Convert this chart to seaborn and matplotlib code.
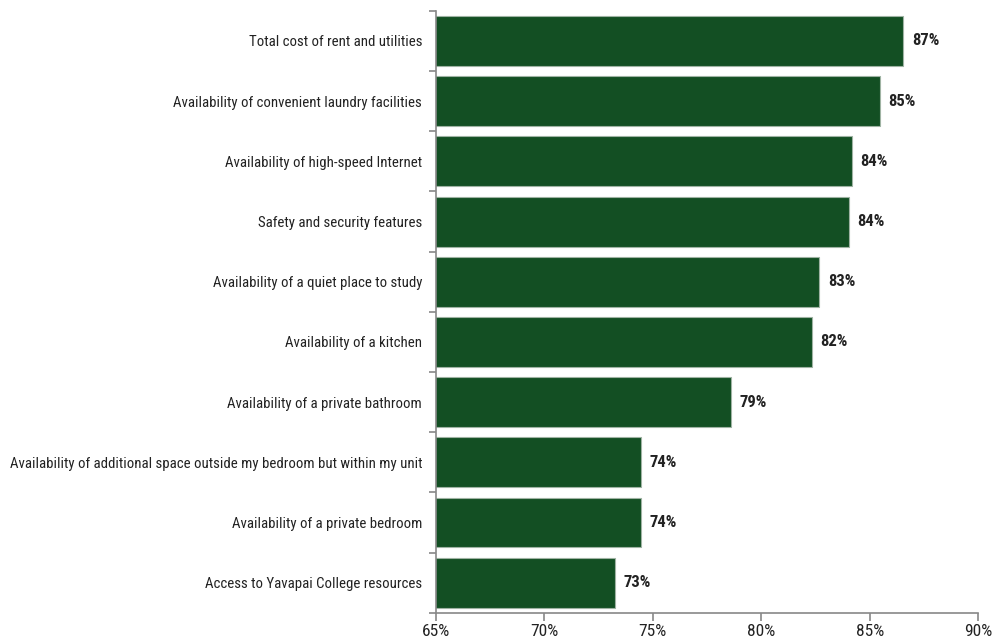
import matplotlib
matplotlib.use("Agg")
import matplotlib.pyplot as plt
import seaborn as sns
import pandas as pd
import numpy as np
from matplotlib.ticker import FixedLocator

categories = [
    "Total cost of rent and utilities",
    "Availability of convenient laundry facilities",
    "Availability of high-speed Internet",
    "Safety and security features",
    "Availability of a quiet place to study",
    "Availability of a kitchen",
    "Availability of a private bathroom",
    "Availability of additional space outside my bedroom but within my unit",
    "Availability of a private bedroom",
    "Access to Yavapai College resources",
]
values = [86.55, 85.46, 84.17, 84.05, 82.67, 82.33, 78.59, 74.46, 74.46, 73.25]
x_ticks = [65, 70, 75, 80, 85, 90]
x_tick_labels = ["65%", "70%", "75%", "80%", "85%", "90%"]

df = pd.DataFrame({"category": categories, "value": values})

sns.set_theme(style="white")
plt.rcParams["font.family"] = ["Roboto Condensed", "DejaVu Sans"]

fig = plt.figure(figsize=(9.93, 6.41), dpi=100)
ax = fig.add_axes([0.439, 0.044, 0.546, 0.939])

sns.barplot(data=df, x="value", y="category", orient="h", color="#134f23",
            saturation=1, width=0.83, edgecolor="#9fb3a3", linewidth=0.8, ax=ax)

ax.set_xlim(65, 90)
ax.set_xticks(x_ticks)
ax.set_xticklabels(x_tick_labels, fontsize=12.5, color="#222222")
ax.set_xlabel("")
ax.set_ylabel("")
ax.set_yticks(range(len(categories)))
ax.set_yticklabels(categories, fontsize=10.7, color="#222222")
ax.tick_params(axis="y", length=0, pad=10)
ax.yaxis.set_minor_locator(FixedLocator(np.arange(-0.5, len(categories), 1.0)))
ax.tick_params(axis="y", which="minor", length=5, color="#888888", width=1.2, left=True)
ax.tick_params(axis="x", length=6, color="#888888", width=1.2, bottom=True, pad=2)

for side in ["top", "right"]:
    ax.spines[side].set_visible(False)
for side in ["left", "bottom"]:
    ax.spines[side].set_color("#888888")
    ax.spines[side].set_linewidth(1.2)

for i, v in enumerate(values):
    ax.text(v + 0.4, i, f"{round(v):d}%", va="center", ha="left",
            fontsize=12, fontweight="bold", color="#222222")

fig.savefig("out.png", dpi=100)
